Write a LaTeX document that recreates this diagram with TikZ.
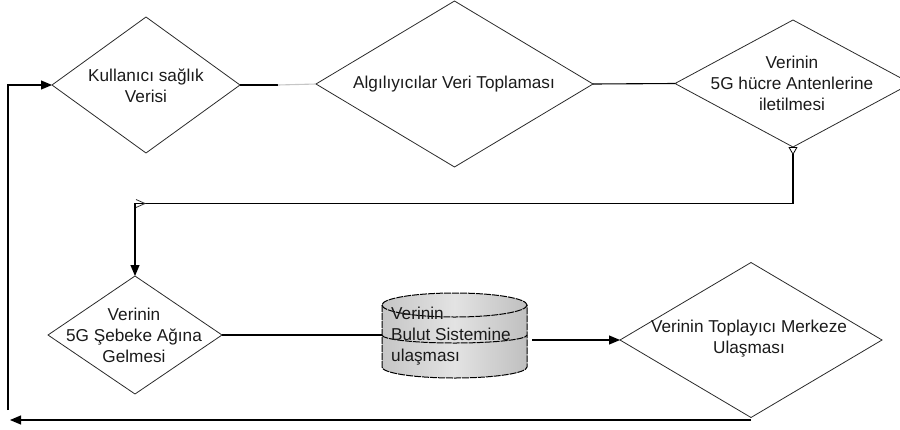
\documentclass[tikz,border=0pt]{standalone}
\usepackage{fontspec}
\setmainfont{Liberation Sans}
\usetikzlibrary{shapes.geometric,arrows.meta}
\definecolor{ink}{HTML}{1A1A1A}
\definecolor{edge}{HTML}{2A2A2A}
\tikzset{
  dia/.style={diamond,draw=edge,line width=0.8pt,inner sep=0pt,outer sep=0pt},
  lbl/.style={font=\fontsize{17.2}{21}\selectfont,text=ink,align=center,inner sep=0pt},
  conn/.style={draw=black,line width=1.1pt},
  tipfull/.style={-{Triangle[length=11pt,width=9pt]}},
  cyledge/.style={draw=black,line width=1pt,dash pattern=on 7pt off 1pt},
  opentip/.style={draw=edge,line width=0.8pt}
}
\begin{document}
\begin{tikzpicture}[x=1pt,y=-1pt]
\useasboundingbox (0,0) rectangle (900,429);

% diamonds
\node[dia,minimum width=188pt,minimum height=136pt] (d1) at (146,85) {};
\node[dia,minimum width=277pt,minimum height=166pt] (d2) at (454.5,84) {};
\node[dia,minimum width=236pt,minimum height=127pt] (d3) at (793,83.5) {};
\node[dia,minimum width=174pt,minimum height=118pt] (d4) at (135,335) {};
\node[dia,minimum width=262pt,minimum height=155pt] (d5) at (751,340) {};

% texts
\node[lbl] (t1) at (146,86) {Kullanıcı sağlık\\Verisi};
\node[lbl] (t2) at (454,84) {Algılıyıcılar Veri Toplaması};
\node[lbl] (t3) at (792,83) {Verinin\\5G hücre Antenlerine\\iletilmesi};
\node[lbl] (t4) at (134,335) {Verinin\\5G Şebeke Ağına\\Gelmesi};
\node[lbl] (t5) at (749,339) {Verinin Toplayıcı Merkeze\\Ulaşması};

% cylinder
\path[left color=gray!45,right color=gray!50,middle color=gray!22]
  (382,305) -- (382,367) arc[start angle=180,end angle=360,x radius=72.5pt,y radius=11pt]
  -- (527,305) arc[start angle=0,end angle=180,x radius=72.5pt,y radius=12pt] -- cycle;
\draw[cyledge]
  (382,305) -- (382,367) arc[start angle=180,end angle=360,x radius=72.5pt,y radius=11pt]
  -- (527,305) arc[start angle=0,end angle=180,x radius=72.5pt,y radius=12pt];
\draw[cyledge] (382,305) arc[start angle=180,end angle=360,x radius=72.5pt,y radius=12pt];
\draw[cyledge] (382,335) arc[start angle=180,end angle=360,x radius=72.5pt,y radius=8pt];
\node[lbl,align=left,anchor=west] (tc) at (391,336) {Verinin\\Bulut Sistemine\\ulaşması};

% coordinates
\coordinate (mid12) at (278,85);
\coordinate (c2) at (135,203.5);
\coordinate (cylL) at (382,335);
\coordinate (cylR) at (532,340);
\coordinate (retL) at (10,420);
\coordinate (retB) at (8,410);

% connectors
\draw[conn] (d1.east) -- (mid12);
\draw[conn,draw=gray!45] (mid12) -- (d2.west);
\draw[conn] (d2.east) -- (d3.west);
\draw[conn,{Triangle[open,reversed,length=8pt,width=9pt,line width=0.8pt]}-{Triangle[length=11pt,width=9pt]}]
  (d3.south) |- (c2) -- (d4.north);
\draw[opentip] ([shift={(1,-4)}]c2) -- ([shift={(10,0)}]c2) -- ([shift={(1,4)}]c2);
\draw[conn] (d4.east) -- (cylL);
\draw[conn,tipfull] (cylR) -- (d5.west);
\draw[conn,tipfull] (d5.south |- retL) -- (retL);
\draw[conn,tipfull] (retB) |- (d1.west);
\end{tikzpicture}
\end{document}
